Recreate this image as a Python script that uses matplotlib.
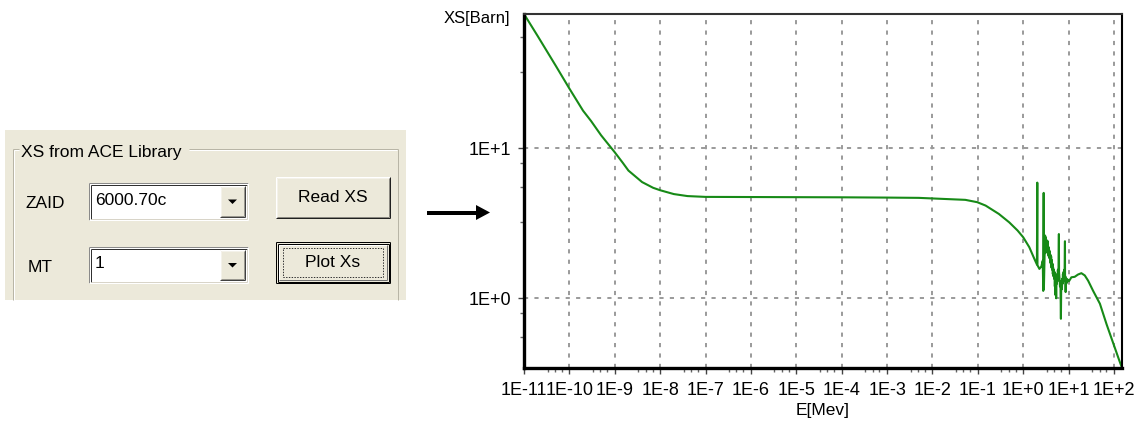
import matplotlib
matplotlib.use("Agg")
import matplotlib.pyplot as plt
from matplotlib.patches import Rectangle, Polygon
from matplotlib.ticker import FixedLocator, LogLocator, NullFormatter

plt.rcParams["font.family"] = ["Liberation Sans", "DejaVu Sans"]
plt.rcParams["lines.scale_dashes"] = False

# total cross section, ZAID 6000.70c, MT 1
energy_mev = [1e-11, 2e-11, 5e-11, 1e-10, 2e-10, 3e-10, 5e-10, 1e-9, 1.5e-9, 2e-9,
              4e-9, 7e-9, 1e-8, 2e-8, 4e-8, 1e-7, 1e-6, 1e-5, 1e-4, 1e-3,
              5e-3, 0.016, 0.053, 0.097, 0.148, 0.29, 0.49, 0.75, 1.0, 1.36,
              1.76, 2.0, 2.04, 2.06, 2.27, 2.51, 2.69, 2.76, 2.82, 2.85,
              2.95, 3.03, 3.08, 3.14, 3.19, 3.25, 3.30, 3.36, 3.42, 3.48,
              3.53, 3.60, 3.66, 3.72, 3.78, 3.85, 3.91, 3.98, 4.05, 4.12,
              4.19, 4.26, 4.33, 4.41, 4.49, 4.56, 4.64, 4.72, 4.80, 4.88,
              4.97, 5.05, 5.14, 5.22, 5.32, 5.41, 5.50, 5.60, 5.70, 5.80,
              5.89, 6.0, 6.10, 6.15, 6.31, 6.45, 6.60, 6.76, 6.85, 7.00,
              7.12, 7.24, 7.36, 7.49, 7.62, 7.75, 7.88, 8.02, 8.15, 8.30,
              8.35, 8.45, 8.59, 8.72, 8.89, 9.05, 9.20, 9.68, 10.2, 11.5,
              13.6, 16.1, 19.1, 22.7, 26.9, 34.7, 48.9, 68.7, 96.5, 125,
              150]
xs_barn = [78.5, 56, 35.5, 25, 17.8, 15.2, 12.2, 9.4, 8.0, 7.1,
           5.95, 5.45, 5.25, 4.95, 4.8, 4.74, 4.73, 4.72, 4.71, 4.69,
           4.67, 4.6, 4.53, 4.37, 4.15, 3.65, 3.21, 2.83, 2.55, 2.19,
           1.83, 1.68, 5.9, 1.66, 1.57, 1.63, 1.78, 1.12, 5.04, 1.15,
           1.9, 2.62, 2.0, 2.55, 2.25, 2.45, 2.05, 2.35, 2.15, 2.4,
           1.95, 2.2, 1.9, 2.1, 1.85, 2.05, 1.75, 1.95, 1.7, 1.9,
           1.6, 1.8, 1.55, 1.7, 1.45, 1.6, 1.4, 1.55, 1.35, 1.5,
           1.2, 1.4, 1.05, 1.3, 1.0, 1.35, 1.25, 1.45, 1.3, 1.55,
           1.4, 1.6, 2.68, 1.5, 1.35, 1.2, 1.3, 0.73, 1.1, 1.25,
           1.15, 1.35, 1.25, 1.45, 1.3, 1.5, 1.35, 1.55, 1.4, 2.4,
           1.3, 1.4, 1.1, 1.3, 1.25, 1.35, 1.28, 1.33, 1.3, 1.38,
           1.39, 1.44, 1.47, 1.42, 1.31, 1.12, 0.92, 0.67, 0.5, 0.4,
           0.343]

x_ticks = [1e-11, 1e-10, 1e-9, 1e-8, 1e-7, 1e-6, 1e-5, 1e-4, 1e-3, 1e-2,
           1e-1, 1e0, 1e1, 1e2]
x_tick_labels = ["1E-11", "1E-10", "1E-9", "1E-8", "1E-7", "1E-6", "1E-5",
                 "1E-4", "1E-3", "1E-2", "1E-1", "1E+0", "1E+1", "1E+2"]
y_ticks = [1, 10]
y_tick_labels = ["1E+0", "1E+1"]

W, H = 1143, 429
PX = 0.72  # points per pixel at 100 dpi
fig = plt.figure(figsize=(W / 100, H / 100), dpi=100)

# pixel canvas for the form panel and the arrow
bg = fig.add_axes([0, 0, 1, 1])
bg.set_xlim(0, W)
bg.set_ylim(H, 0)
bg.axis("off")

FACE = "#ECE9DA"


def hline(x0, x1, y, c, w=1):
    bg.plot([x0, x1], [y, y], color=c, lw=w * PX, solid_capstyle="butt")


def vline(x, y0, y1, c, w=1):
    bg.plot([x, x], [y0, y1], color=c, lw=w * PX, solid_capstyle="butt")


def bevel(x0, y0, x1, y1, tl, br):
    hline(x0, x1, y0, tl)
    vline(x0, y0, y1, tl)
    hline(x0, x1, y1, br)
    vline(x1, y0, y1, br)


def combo(x0, y0, x1, y1, text):
    bg.add_patch(Rectangle((x0, y0), x1 - x0, y1 - y0, fc="white", ec="none"))
    bevel(x0, y0, x1, y1, "#8a8a8a", "#ffffff")
    bevel(x0 + 1.5, y0 + 1.5, x1 - 1.5, y1 - 1.5, "#303030", "#d8d4c8")
    bx0, bx1 = x1 - 28, x1 - 3
    bg.add_patch(Rectangle((bx0, y0 + 3), bx1 - bx0, y1 - y0 - 6, fc=FACE, ec="none"))
    bevel(bx0, y0 + 3, bx1, y1 - 3, "#ffffff", "#404040")
    bevel(bx0 + 1, y0 + 4, bx1 - 1, y1 - 4, "#f4f2ea", "#9a9890")
    cx, cy = (bx0 + bx1) / 2, (y0 + y1) / 2
    bg.add_patch(Polygon([(cx - 4.5, cy - 2), (cx + 4.5, cy - 2), (cx, cy + 2.5)],
                         closed=True, fc="black", ec="none"))
    bg.text(x0 + 6, cy - 1, text, fontsize=12.5, va="center", ha="left")


def button(x0, y0, x1, y1, text, default=False):
    bg.add_patch(Rectangle((x0, y0), x1 - x0, y1 - y0, fc=FACE, ec="none"))
    if default:
        bevel(x0, y0, x1, y1, "#000000", "#000000")
        bevel(x0 + 1.5, y0 + 1.5, x1 - 1.5, y1 - 1.5, "#000000", "#000000")
        bevel(x0 + 3, y0 + 3, x1 - 3, y1 - 3, "#ffffff", "#707070")
        bg.add_patch(Rectangle((x0 + 7, y0 + 6), x1 - x0 - 14, y1 - y0 - 12, fc="none",
                               ec="#333333", lw=1 * PX, ls=(0, (1, 1))))
    else:
        bevel(x0, y0, x1, y1, "#ffffff", "#202020")
        bevel(x0 + 1, y0 + 1, x1 - 1, y1 - 1, "#f4f2ea", "#8a8880")
    bg.text((x0 + x1) / 2, (y0 + y1) / 2, text, fontsize=12.5, ha="center", va="center")


# form panel
bg.add_patch(Rectangle((5, 130), 401, 170, fc=FACE, ec="none"))
hline(13, 19, 149, "#b8b5a6")
hline(189, 398, 149, "#b8b5a6")
hline(14, 19, 150, "#ffffff")
hline(189, 397, 150, "#ffffff")
vline(13, 149, 300, "#b8b5a6")
vline(14, 150, 300, "#ffffff")
vline(398, 149, 300, "#b8b5a6")
bg.text(21, 152, "XS from ACE Library", fontsize=12.5, va="center", ha="left")

bg.text(25, 204, "ZAID", fontsize=12.5, va="center", ha="left")
bg.text(28, 267, "MT", fontsize=12.5, va="center", ha="left")
combo(89, 183, 248, 220, "6000.70c")
combo(89, 247, 248, 283, "1")
button(276, 177, 390, 218, "Read XS")
button(276, 242, 390, 283, "Plot Xs", default=True)

# arrow between form and plot
bg.plot([427, 478], [212.5, 212.5], color="black", lw=4 * PX, solid_capstyle="butt")
bg.add_patch(Polygon([(476, 205), (490, 212.5), (476, 220)], closed=True,
                     fc="black", ec="none"))

# cross section plot
ax = fig.add_axes([524 / W, (H - 368) / H, (1122 - 524) / W, (368 - 14) / H])
ax.loglog(energy_mev, xs_barn, color="#178a17", lw=1.5)
ax.set_xlim(1e-11, 150)
ax.set_ylim(min(xs_barn), max(xs_barn))

ax.xaxis.set_major_locator(FixedLocator(x_ticks))
ax.set_xticklabels(x_tick_labels)
ax.xaxis.set_minor_locator(LogLocator(base=10, subs=(3.3, 4.8, 6.8), numticks=30))
ax.xaxis.set_minor_formatter(NullFormatter())
ax.yaxis.set_major_locator(FixedLocator(y_ticks))
ax.set_yticklabels(y_tick_labels)
ax.yaxis.set_minor_locator(LogLocator(base=10, subs=(3.2, 5.5, 8.0), numticks=30))
ax.yaxis.set_minor_formatter(NullFormatter())

ax.tick_params(which="major", direction="out", length=4, width=1, color="#444444",
               labelsize=13, pad=5)
ax.tick_params(axis="x", which="major", pad=6)
ax.tick_params(which="minor", direction="out", length=3, width=1, color="#666666")

ax.grid(True, which="major", color="#9a9a9a", lw=1.4, linestyle=(0, (3, 4.5)))
ax.set_axisbelow(True)

ax.spines["left"].set_linewidth(2.4)
ax.spines["bottom"].set_linewidth(2.4)
ax.spines["top"].set_linewidth(1.5)
ax.spines["top"].set_color("#333333")
ax.spines["right"].set_linewidth(1.5)

fig.text(444 / W, 1 - 18 / H, "XS[Barn]", fontsize=12, ha="left", va="center")
fig.text(823 / W, 1 - 410 / H, "E[Mev]", fontsize=12.5, ha="center", va="center")

fig.savefig("out.png", dpi=100)
